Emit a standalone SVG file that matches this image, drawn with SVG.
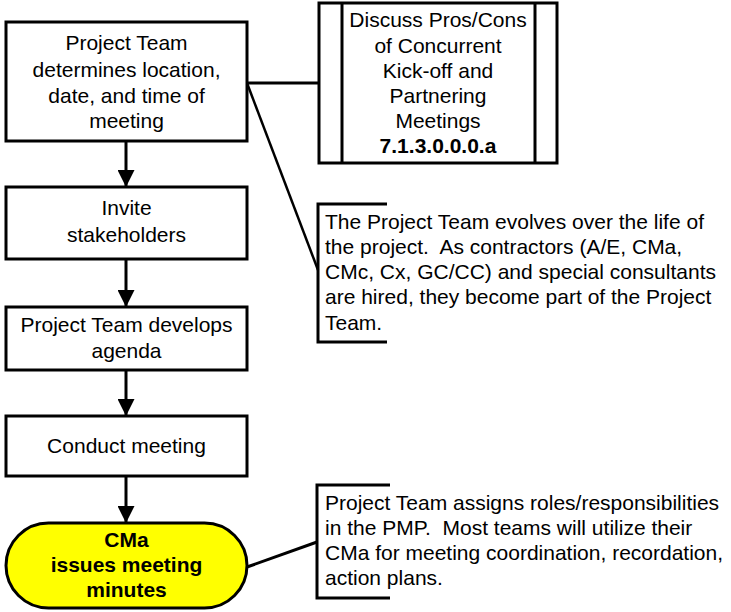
<svg xmlns="http://www.w3.org/2000/svg" width="731" height="612" viewBox="0 0 731 612">
<style>
.box{fill:#fff;stroke:#000;stroke-width:3}
.t{font-family:"Liberation Sans",Arial,sans-serif;font-size:21px;fill:#000}
.c{text-anchor:middle}
.b{font-weight:bold}
.p{white-space:pre}
.ln{fill:none;stroke:#000;stroke-width:3}
</style>
<defs>
<marker id="ah" markerWidth="19" markerHeight="17" refX="19" refY="9.5" orient="auto" markerUnits="userSpaceOnUse" viewBox="0 0 19 19">
<path d="M0,0 L19,9.5 L0,19 Z" fill="#000"/>
</marker>
</defs>
<rect width="731" height="612" fill="#fff"/>
<g id="connectors">
<line class="ln" x1="126" y1="141" x2="126" y2="187" marker-end="url(#ah)"/>
<line class="ln" x1="126" y1="259" x2="126" y2="307" marker-end="url(#ah)"/>
<line class="ln" x1="126" y1="370" x2="126" y2="416" marker-end="url(#ah)"/>
<line class="ln" x1="126" y1="476" x2="126" y2="523" marker-end="url(#ah)"/>
<line class="ln" x1="247" y1="83" x2="319" y2="83"/>
<line class="ln" x1="247" y1="83" x2="318" y2="270" style="stroke-width:2.5"/>
<line class="ln" x1="247" y1="567" x2="317" y2="542"/>
</g>
<g id="n1">
<rect class="box" x="6" y="22" width="241" height="119"/>
<text class="t c"><tspan x="126.5" y="50">Project Team</tspan><tspan x="126.5" y="77">determines location,</tspan><tspan x="126.5" y="103">date, and time of</tspan><tspan x="126.5" y="128">meeting</tspan></text>
</g>
<g id="n2">
<rect class="box" x="319" y="3" width="238" height="160"/>
<line class="ln" x1="342" y1="3" x2="342" y2="163"/>
<line class="ln" x1="535" y1="3" x2="535" y2="163"/>
<text class="t c"><tspan x="438" y="27">Discuss Pros/Cons</tspan><tspan x="438" y="53">of Concurrent</tspan><tspan x="438" y="78">Kick-off and</tspan><tspan x="438" y="103">Partnering</tspan><tspan x="438" y="128">Meetings</tspan><tspan x="438" y="153" class="b">7.1.3.0.0.0.a</tspan></text>
</g>
<g id="n3">
<path class="ln" d="M387,204 H318 V342 H387"/>
<text class="t p"><tspan x="325" y="229">The Project Team evolves over the life of</tspan><tspan x="325" y="254">the project.  As contractors (A/E, CMa,</tspan><tspan x="325" y="279">CMc, Cx, GC/CC) and special consultants</tspan><tspan x="325" y="304">are hired, they become part of the Project</tspan><tspan x="325" y="330">Team.</tspan></text>
</g>
<g id="n4">
<rect class="box" x="6" y="187" width="241" height="72"/>
<text class="t c"><tspan x="126.5" y="215">Invite</tspan><tspan x="126.5" y="242">stakeholders</tspan></text>
</g>
<g id="n5">
<rect class="box" x="6" y="307" width="241" height="63"/>
<text class="t c"><tspan x="126.5" y="332">Project Team develops</tspan><tspan x="126.5" y="358">agenda</tspan></text>
</g>
<g id="n6">
<rect class="box" x="6" y="416" width="241" height="60"/>
<text class="t c"><tspan x="126.5" y="453">Conduct meeting</tspan></text>
</g>
<g id="n7">
<rect x="6" y="523" width="241" height="85" rx="42.5" ry="42.5" fill="#ffff00" stroke="#000" stroke-width="3"/>
<text class="t c b"><tspan x="126.5" y="547">CMa</tspan><tspan x="126.5" y="572">issues meeting</tspan><tspan x="126.5" y="597">minutes</tspan></text>
</g>
<g id="n8">
<path class="ln" d="M390,485 H317 V598 H390"/>
<text class="t p"><tspan x="325" y="510">Project Team assigns roles/responsibilities</tspan><tspan x="325" y="535">in the PMP.  Most teams will utilize their</tspan><tspan x="325" y="560">CMa for meeting coordination, recordation,</tspan><tspan x="325" y="585">action plans.</tspan></text>
</g>
</svg>
